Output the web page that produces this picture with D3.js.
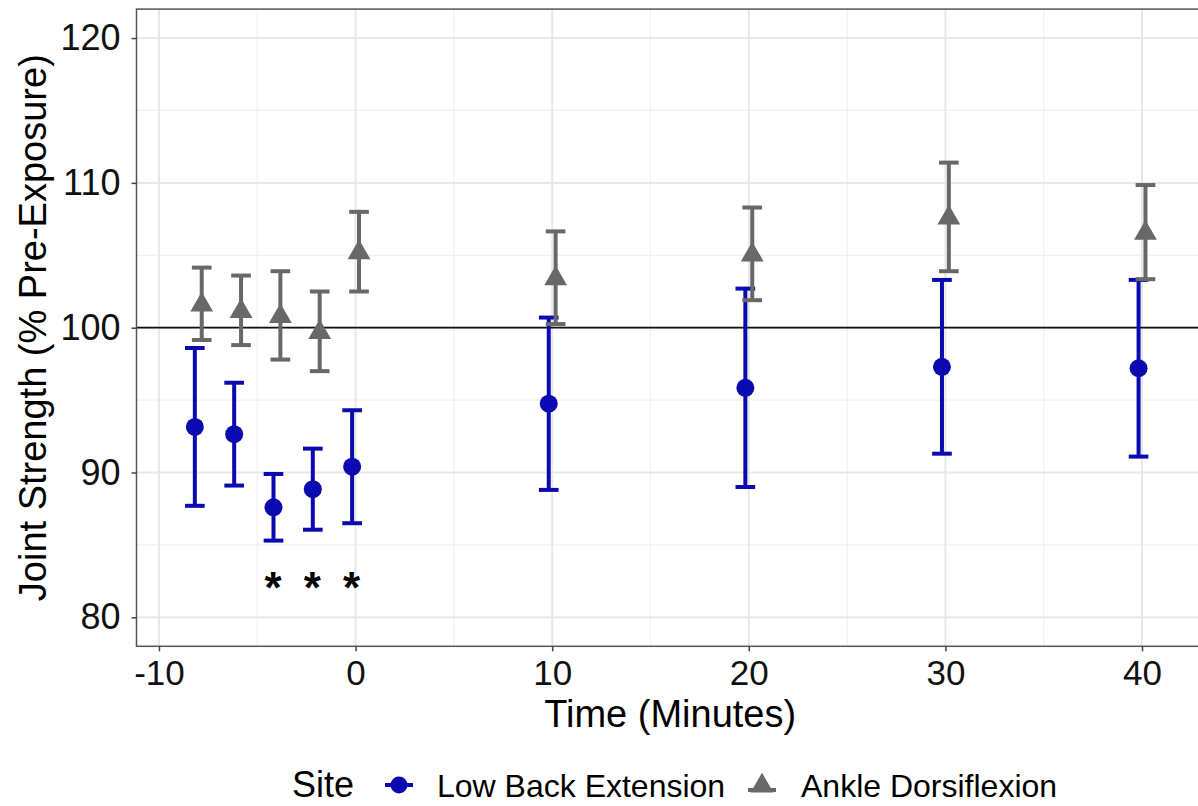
<!DOCTYPE html>
<html>
<head>
<meta charset="utf-8">
<script src="https://cdn.jsdelivr.net/npm/d3@7"></script>
<style>
  html, body { margin: 0; padding: 0; background: #fff; }
  svg { display: block; font-family: "Liberation Sans", Arial, sans-serif; }
</style>
</head>
<body>
<svg id="chart" width="1198" height="806"></svg>
<script>
// Measurement times (minutes relative to exposure end)
const times = [-8, -6, -4, -2, 0, 10, 20, 30, 40];

// Low back extension: mean and error half-width (% pre-exposure)
const backMean = [93.15, 92.65, 87.6, 88.85, 90.4, 94.75, 95.85, 97.3, 97.2];
const backErr  = [5.45, 3.55, 2.3, 2.8, 3.9, 5.95, 6.85, 6.0, 6.1];

// Ankle dorsiflexion: mean and error half-width (% pre-exposure)
const ankleMean = [101.65, 101.2, 100.85, 99.75, 105.25, 103.45, 105.1, 107.65, 106.6];
const ankleErr  = [2.5, 2.4, 3.05, 2.75, 2.75, 3.2, 3.2, 3.75, 3.25];

// Significance markers
const starTimes = [-4.2, -2.2, -0.2];
const starLevel = 82.8;

const xTicks = [-10, 0, 10, 20, 30, 40];
const xMinor = [-5, 5, 15, 25, 35];
const yTicks = [80, 90, 100, 110, 120];
const yMinor = [85, 95, 105, 115];

const siteNames = ["Low Back Extension", "Ankle Dorsiflexion"];
const siteColors = ["#0a0ab0", "#686868"];

const dodge = 0.175;
const capWidth = 1.0;

const svg = d3.select("#chart");

// Scales: x domain expanded 5% beyond the dodged error-bar extent
const xLo = d3.min(times) - dodge - capWidth / 2;
const xHi = d3.max(times) + dodge + capWidth / 2;
const xPad = (xHi - xLo) * 0.05;
const x = d3.scaleLinear().domain([xLo - xPad, xHi + xPad]).range([136.5, 1203.8]);
const y = d3.scaleLinear().domain([78, 122]).range([646.3, 9.1]);

const [px0, px1] = x.range();
const [py1, py0] = y.range();

// Panel grid
const grid = svg.append("g");
grid.selectAll(".ymin").data(yMinor).join("line")
  .attr("x1", px0).attr("x2", px1)
  .attr("y1", d => y(d)).attr("y2", d => y(d))
  .attr("stroke", "#f0f0f0").attr("stroke-width", 1.2);
grid.selectAll(".xmin").data(xMinor).join("line")
  .attr("y1", py0).attr("y2", py1)
  .attr("x1", d => x(d)).attr("x2", d => x(d))
  .attr("stroke", "#f0f0f0").attr("stroke-width", 1.2);
grid.selectAll(".ymaj").data(yTicks).join("line")
  .attr("x1", px0).attr("x2", px1)
  .attr("y1", d => y(d)).attr("y2", d => y(d))
  .attr("stroke", "#e8e8e8").attr("stroke-width", 2);
grid.selectAll(".xmaj").data(xTicks).join("line")
  .attr("y1", py0).attr("y2", py1)
  .attr("x1", d => x(d)).attr("x2", d => x(d))
  .attr("stroke", "#e8e8e8").attr("stroke-width", 2);

// Reference line at 100%
svg.append("line")
  .attr("x1", px0).attr("x2", px1)
  .attr("y1", y(100)).attr("y2", y(100))
  .attr("stroke", "#111").attr("stroke-width", 1.8);

// Series records
const series = [
  { name: siteNames[0], color: siteColors[0], shape: "circle", offset: -dodge,
    rows: times.map((t, i) => ({ t, m: backMean[i], e: backErr[i] })) },
  { name: siteNames[1], color: siteColors[1], shape: "triangle", offset: dodge,
    rows: times.map((t, i) => ({ t, m: ankleMean[i], e: ankleErr[i] })) }
];

const triSymbol = d3.symbol(d3.symbolTriangle, 225);

series.forEach(s => {
  const g = svg.append("g");
  const bars = g.selectAll("g.eb").data(s.rows).join("g");
  bars.append("line")
    .attr("x1", d => x(d.t + s.offset)).attr("x2", d => x(d.t + s.offset))
    .attr("y1", d => y(d.m - d.e)).attr("y2", d => y(d.m + d.e))
    .attr("stroke", s.color).attr("stroke-width", 4);
  [-1, 1].forEach(sgn => {
    bars.append("line")
      .attr("x1", d => x(d.t + s.offset - capWidth / 2))
      .attr("x2", d => x(d.t + s.offset + capWidth / 2))
      .attr("y1", d => y(d.m + sgn * d.e)).attr("y2", d => y(d.m + sgn * d.e))
      .attr("stroke", s.color).attr("stroke-width", 4);
  });
  if (s.shape === "circle") {
    g.selectAll("circle").data(s.rows).join("circle")
      .attr("cx", d => x(d.t + s.offset)).attr("cy", d => y(d.m))
      .attr("r", 9).attr("fill", s.color);
  } else {
    g.selectAll("path.pt").data(s.rows).join("path")
      .attr("transform", d => `translate(${x(d.t + s.offset)},${y(d.m) + 1})`)
      .attr("d", triSymbol).attr("fill", s.color);
  }
});

// Significance asterisks
svg.selectAll("text.star").data(starTimes).join("text")
  .attr("x", d => x(d)).attr("y", y(starLevel))
  .attr("dy", "0.6em")
  .attr("text-anchor", "middle")
  .attr("font-size", 44).attr("font-weight", "bold")
  .attr("fill", "#000")
  .text("*");

// Panel border
svg.append("rect")
  .attr("x", px0).attr("y", py0)
  .attr("width", px1 - px0).attr("height", py1 - py0)
  .attr("fill", "none").attr("stroke", "#555").attr("stroke-width", 1.5);

// Axes
const xAxis = svg.append("g")
  .attr("transform", `translate(0,${py1})`)
  .call(d3.axisBottom(x).tickValues(xTicks).tickSize(5).tickPadding(9).tickFormat(d3.format("d")));
const yAxis = svg.append("g")
  .attr("transform", `translate(${px0},0)`)
  .call(d3.axisLeft(y).tickValues(yTicks).tickSize(5).tickPadding(11).tickFormat(d3.format("d")));
[xAxis, yAxis].forEach(a => {
  a.select(".domain").remove();
  a.selectAll(".tick line").attr("stroke", "#444").attr("stroke-width", 1.5);
  a.selectAll(".tick text")
    .attr("font-size", 36).attr("fill", "#111")
    .attr("font-family", "Liberation Sans, Arial, sans-serif");
});
xAxis.selectAll(".tick text").attr("font-size", 35).text(d => d < 0 ? "-" + Math.abs(d) : d);

// Axis titles
svg.append("text")
  .attr("x", (px0 + px1) / 2).attr("y", 727)
  .attr("text-anchor", "middle")
  .attr("font-size", 38).attr("fill", "#000")
  .text("Time (Minutes)");
svg.append("text")
  .attr("transform", `translate(46,${(py0 + py1) / 2}) rotate(-90)`)
  .attr("text-anchor", "middle")
  .attr("font-size", 38).attr("fill", "#000")
  .text("Joint Strength (% Pre-Exposure)");

// Legend
const legY = 785;
svg.append("text")
  .attr("x", 292).attr("y", 797)
  .attr("font-size", 36).attr("fill", "#000")
  .text("Site");
const keyX = [399, 762];
const labelX = [437, 801];
series.forEach((s, i) => {
  svg.append("line")
    .attr("x1", keyX[i] - 14).attr("x2", keyX[i] + 14)
    .attr("y1", s.shape === "circle" ? legY : legY + 5)
    .attr("y2", s.shape === "circle" ? legY : legY + 5)
    .attr("stroke", s.color).attr("stroke-width", 4);
  if (s.shape === "circle") {
    svg.append("circle").attr("cx", keyX[i]).attr("cy", legY).attr("r", 8.5).attr("fill", s.color);
  } else {
    svg.append("path").attr("transform", `translate(${keyX[i]},${legY + 1})`)
      .attr("d", triSymbol).attr("fill", s.color);
  }
  svg.append("text")
    .attr("x", labelX[i]).attr("y", 797)
    .attr("font-size", 32).attr("fill", "#000")
    .text(s.name);
});
</script>
</body>
</html>
